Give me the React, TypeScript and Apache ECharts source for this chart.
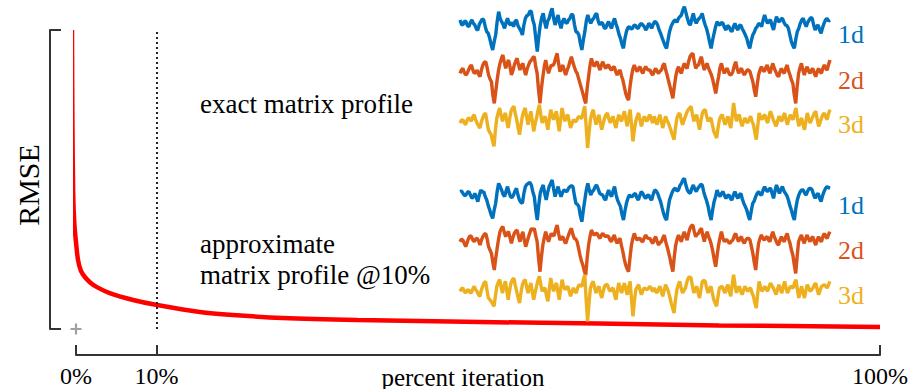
import React, { useEffect, useRef } from "react";
import * as echarts from "echarts";

// ---- RMSE curve (percent iteration vs RMSE, arbitrary units 0-100) ----
const rmseX = [-0.5, -0.45, -0.35, -0.2, 0, 0.25, 0.6, 1.1, 1.8, 2.6, 4.2, 7.1, 10.1, 15.4, 19.5, 25.7, 35, 46.5, 65, 80, 100];
const rmseY = [100, 70, 45, 35, 29, 23.1, 19.5, 17.4, 15.5, 14, 12, 9.7, 8, 5.7, 4.7, 3.7, 3.0, 2.5, 1.8, 1.2, 0.7];
const xTicks = [0, 10, 100];
const markerPct = 10;

// ---- exact matrix profile sparklines ----
const blueTop = [
  15, 2, 0, 12, 10, -2, -5, 8, 15, 5, 0, -12, -15, 2, 10, 18, 15, -5, -20, -25, -40, -60, -75, -50, -30, 10, 40, 20, 10, 2, -10, 8, 20, 5, 0, 8, -5, 10, 15, -2, -10, -18, -30, 0, 20, 28, 30, 42, 40, 15, 0, -40, -80, -35, 0, 22, 35, 8, -10, 12, 20, 38, 50, 20, 0, 18, 30, 5, -10, 10, 20, 8, 5, 15, 20, 32, 30, 2, -20, -22, -30, -55, -75, -45, -20, 12, 30, 15, 5, 15, 20, 30, 35, 12, 0, 8, 5, -8, -10, 2, 10, -2, -10, 8, 20, 3, -10, -28, -40, -58, -70, -40, -20, -8, -5, -12, -10, -2, 0, -8, -10, 0, 5,
  0, -5, -15, -8, 5, 0, -10, 2, 10, 8, 0, -15, -25, -38, -50, -62, -70, -45, -20, -5, 5, 12, 15, 8, 20, 25, 30, 45, 55, 38, 20, 5, 0, 18, 35, 15, 5, 15, 20, 25, 35, 15, 0, -12, -30, -52, -70, -45, -25, -5, 10, 2, 0, 8, 5, -8, -15, -2, -5, -15, -20, -5, 5, -8, -15, -2, 0, -12, -20, -30, -40, -58, -70, -48, -30, -22, -10, -5, 5, 2, -5, 15, 30, 15, 5, 12, 15, -2, -15, 8, 25, 12, 10, 18, 20, 8, 0, -2, -10, -30, -50, -62, -70, -42, -20, -10, 5, 15, 20, 5, -5, 8, 15, 22, 20, 0, -15, -5, 0, -15, -25, -8, 5, 15, 20, 12, 15,
];
const orangeTop = [
  -5, 5, 10, -2, -10, -5, 5, 15, 20, 5, -5, -2, 5, -8, -15, 5, 20, 28, 30, 12, -10, -22, -30, -70, -95, -60, -25, 5, 25, 40, 50, 28, 10, 25, 35, 15, -10, 2, 20, 32, 40, 20, 5, 18, 25, 5, -10, 8, 20, 30, 35, 42, 45, 15, -5, -55, -95, -50, -15, 15, 35, 12, -5, 10, 20, 18, 25, 42, 55, 25, 0, 12, 20, 2, -10, 5, 15, 32, 45, 28, 15, 2, -5, -20, -35, -50, -65, -82, -95, -50, -15, 18, 40, 25, 15, 25, 30, 15, 5, 20, 30, 18, 10, 18, 20, 10, 5, 12, 15, 0, -10, 0, 5, -12, -25, -45, -65, -78, -85, -45, -15, 8, 20, 8, 0, 10, 15, 2, -5, 8, 15, 8, 5,
  5, -5, -10, 2, 10, 0, -5, 2, 5, 18, 25, 5, -10, -28, -45, -62, -80, -45, -15, 5, 15, 2, -5, 12, 25, 15, 10, 30, 45, 52, 55, 30, 10, 18, 20, 35, 45, 22, 5, 18, 25, 10, 0, -10, -25, -45, -65, -38, -15, 12, 25, 8, -5, 5, 10, -2, -10, -8, 0, 18, 30, 10, -5, 5, 10, -2, -10, -2, 5, 5, 0, -15, -30, -55, -75, -40, -10, 5, 15, 5, 0, 12, 20, 5, -5, 12, 25, 10, 0, -10, -15, 0, 10, 0, -5, 10, 20, 2, -10, -25, -35, -70, -95, -45, -5, 12, 25, 5, -10, 5, 15, 2, -5, 5, 10, -5, -15, 0, 10, 0, -5, 10, 20, 10, 5, 22, 35,
];
const yellowTop = [
  0, 8, 10, 0, -5, 8, 15, 12, 5, 18, 25, 10, 0, -8, -15, 2, 15, 25, 30, 5, -20, -28, -35, -55, -70, -20, 15, 32, 45, 22, 5, 20, 30, 5, -15, 12, 35, 45, 50, 28, 10, -15, -35, -5, 20, 35, 45, 18, -5, 18, 35, 5, -25, -2, 15, 38, 55, 25, 0, 12, 20, 0, -20, 12, 40, 22, 10, 25, 35, 2, -25, 12, 45, 22, 5, 18, 25, 5, -15, -2, 10, 5, 5, 15, 20, 15, 15, 35, 50, -10, -75, -30, 10, 28, 40, 15, -5, 12, 25, 0, -20, -2, 15, 25, 30, 12, 0, 12, 20, 0, -15, 8, 25, 12, 5, 22, 35, 10, -10, 18, 40, -5, -55, -20, 5, 20, 30, 8, -10, 8, 20, 10, 5, 18, 25, 10, 0,
  20, 5, -5, 12, 25, 5, -15, 2, 20, 8, 0, -12, -25, -38, -50, -15, 15, 25, 30, 10, -5, 8, 20, 32, 40, 45, 50, 25, 5, 18, 25, 0, -20, 8, 30, 38, 40, 20, 5, 12, 15, -5, -25, -35, -45, -15, 10, 20, 25, 8, -5, 10, 20, 0, -15, 20, 60, 30, 5, 18, 25, 5, -10, 5, 15, 5, 0, 12, 20, 5, -5, -28, -50, -10, 30, 18, 10, 20, 25, 10, 0, 20, 35, 22, 10, 0, -10, 5, 20, 12, 5, 20, 30, 10, -5, 12, 25, 15, 10, 30, 45, 15, -10, 5, 15, -5, -20, 5, 30, 12, 0, 10, 20, 30, 35, 10, -10, 2, 15, 25, 30, 18, 10, 28, 40,
];

// ---- approximate matrix profile @10% sparklines ----
const blueBot = [
  10, 12, 5, -2, 0, 8, 10, 0, -10, -5, 5, -8, -20, 0, 15, 8, 10, -5, -15, -32, -45, -60, -70, -45, -25, 10, 35, 25, 15, 2, -5, 12, 25, 8, -5, -8, 0, 12, 20, 0, -15, -22, -25, 5, 25, 32, 35, 38, 30, 10, -5, -45, -75, -30, 5, 20, 30, 5, -15, 8, 25, 35, 45, 18, -5, 12, 25, 8, -5, 8, 15, 12, 10, 20, 25, 28, 25, -2, -25, -28, -35, -62, -80, -45, -15, 15, 35, 15, 0, 10, 15, 25, 30, 18, 5, 2, 0, -10, -15, 2, 15, 2, -5, 12, 25, 2, -15, -25, -35, -58, -75, -48, -25, -10, 0, -5, -5, 2, 5, -8, -15, -2, 10,
  5, -5, -10, -2, 0, -10, -15, 2, 15, 12, 5, -8, -20, -38, -55, -68, -75, -42, -15, -2, 10, 18, 20, 12, 15, 28, 35, 45, 50, 30, 15, 8, 5, 20, 30, 18, 10, 20, 25, 32, 30, 10, -5, -18, -35, -58, -75, -45, -20, -5, 15, 2, -5, 5, 10, -2, -10, -2, 0, -10, -15, 0, 10, -2, -10, 0, 5, -12, -25, -35, -45, -62, -75, -48, -25, -18, -5, 5, 10, 2, 0, 15, 25, 15, 10, 18, 20, 5, -10, 12, 30, 15, 5, 18, 25, 12, 5, -2, -15, -32, -45, -62, -75, -40, -15, 0, 10, 15, 15, 5, 0, 12, 20, 20, 15, 0, -10, 0, 5, -10, -20, -2, 10, 20, 25, 22, 20,
];
const orangeBot = [
  0, 8, 5, -5, -15, -2, 10, 18, 15, 5, 0, 8, 10, 2, -10, 5, 15, 22, 25, 8, -15, -25, -35, -62, -85, -50, -20, 8, 30, 40, 45, 28, 15, 25, 30, 12, -5, 12, 25, 32, 35, 15, 0, 18, 30, 5, -15, 0, 15, 28, 40, 35, 40, 18, 0, -50, -90, -45, -10, 12, 30, 12, 0, 15, 25, 18, 20, 38, 50, 25, 5, 12, 15, 2, -5, 8, 20, 32, 40, 22, 10, 8, 0, -20, -40, -58, -70, -88, -100, -50, -10, 15, 35, 25, 20, 25, 25, 15, 10, 20, 25, 18, 15, 18, 15, 5, 0, 12, 20, 5, -5, 5, 10, -12, -30, -52, -70, -82, -90, -48, -10, 10, 25, 12, 5, 10, 10, 2, 0, 12, 20, 12, 10,
  10, 0, -5, 8, 15, 0, -10, -2, 0, 12, 20, 0, -15, -32, -50, -72, -90, -45, -10, 8, 20, 8, 0, 18, 30, 15, 5, 25, 40, 48, 50, 30, 15, 22, 25, 35, 40, 18, 0, 18, 30, 15, 5, -10, -30, -55, -75, -40, -10, 12, 30, 12, 0, 5, 5, -2, -5, 2, 5, 18, 25, 10, 0, 10, 15, 2, -5, 5, 10, 10, 5, -15, -35, -62, -85, -40, -5, 10, 20, 10, 5, 12, 15, 5, 0, 18, 30, 15, 5, -5, -10, 5, 15, 5, 0, 15, 25, 8, -5, -25, -40, -70, -95, -45, 0, 12, 20, 5, -5, 10, 20, 8, 0, 10, 15, 0, -10, 5, 15, 5, 0, 15, 25, 15, 10, 22, 30,
];
const yellowBot = [
  5, 12, 15, 5, 0, 8, 10, 2, 0, 12, 20, 10, 5, -5, -10, 8, 20, 30, 35, 10, -15, -20, -25, -32, -40, -8, 20, 32, 40, 18, 0, 20, 35, 8, -20, 8, 30, 40, 45, 22, 5, -15, -30, 0, 25, 35, 40, 18, 0, 18, 30, 2, -20, 2, 20, 38, 50, 25, 5, 12, 15, -8, -25, 12, 45, 22, 5, 20, 30, 5, -20, 12, 40, 22, 10, 15, 20, 5, -10, 5, 15, 5, 0, 15, 25, 22, 20, 40, 55, -20, -85, -30, 15, 28, 35, 15, 0, 12, 20, 0, -15, 5, 20, 25, 25, 12, 5, 12, 15, -5, -20, 8, 30, 12, 0, 18, 30, 10, -5, 18, 35, -20, -70, -25, 10, 18, 25, 8, -5, 8, 15, 12, 10, 15, 20, 12, 5,
  15, 5, 0, 12, 20, 5, -10, 8, 25, 15, 5, -12, -30, -45, -60, -20, 10, 25, 35, 15, 0, 8, 15, 32, 45, 48, 45, 20, 0, 12, 20, 0, -15, 12, 35, 38, 35, 15, 0, 12, 20, 0, -20, -30, -40, -10, 15, 18, 20, 8, 0, 15, 25, 5, -10, 25, 55, 25, 0, 12, 20, 5, -5, 8, 20, 12, 5, 12, 15, 0, -10, -30, -45, -2, 35, 18, 5, 12, 20, 12, 5, 18, 30, 22, 15, 5, -5, 12, 25, 10, 0, 18, 35, 15, 0, 10, 20, 18, 15, 30, 40, 10, -15, 5, 20, 0, -15, 8, 25, 15, 5, 10, 15, 25, 30, 10, -5, 8, 20, 22, 25, 20, 15, 25, 35,
];

const dimLabels = ["1d", "2d", "3d"];
const FONT = "'Liberation Serif', 'Times New Roman', serif";
const COLORS = ["#0072BD", "#D95319", "#EDB120"];

export default function App() {
  const ref = useRef<HTMLDivElement>(null);

  useEffect(() => {
    if (!ref.current) return;
    const chart = echarts.init(ref.current, undefined, { renderer: "svg" });

    const sparkSets = [
      { data: blueTop, color: COLORS[0], base: 25 },
      { data: orangeTop, color: COLORS[1], base: 71.7 },
      { data: yellowTop, color: COLORS[2], base: 123 },
      { data: blueBot, color: COLORS[0], base: 195 },
      { data: orangeBot, color: COLORS[1], base: 241.7 },
      { data: yellowBot, color: COLORS[2], base: 293 },
    ];
    const labelY = [34, 80, 124, 205, 250, 295];

    const grids: any[] = [{ left: 76, right: 41, top: 30, bottom: 60 }];
    const xAxes: any[] = [
      {
        type: "value",
        gridIndex: 0,
        min: 0,
        max: 100,
        offset: 26,
        axisLine: { show: true, onZero: false, lineStyle: { color: "#333", width: 2 } },
        axisTick: { show: true, inside: true, length: 10, customValues: xTicks, lineStyle: { color: "#333", width: 2 } },
        axisLabel: {
          show: true,
          customValues: xTicks,
          formatter: (v: number) => v + "%",
          fontSize: 24,
          fontFamily: FONT,
          color: "#000",
          margin: 9,
        },
        splitLine: { show: false },
      },
    ];
    const yAxes: any[] = [
      {
        type: "value",
        gridIndex: 0,
        min: 0,
        max: 100,
        interval: 100,
        offset: 26,
        position: "left",
        axisLine: { show: true, onZero: false, lineStyle: { color: "#333", width: 2 } },
        axisTick: { show: true, inside: true, length: 11, lineStyle: { color: "#333", width: 2 } },
        axisLabel: { show: false },
        splitLine: { show: false },
      },
    ];
    const series: any[] = [
      {
        type: "line",
        xAxisIndex: 0,
        yAxisIndex: 0,
        data: rmseX.map((x, i) => [x, rmseY[i]]),
        smooth: 0.3,
        showSymbol: false,
        clip: false,
        lineStyle: { color: "#ff0000", width: 4.5 },
        z: 3,
        markLine: {
          silent: true,
          symbol: ["none", "none"],
          label: { show: false },
          lineStyle: { type: [2, 3], color: "#222", width: 2 },
          data: [{ xAxis: markerPct }],
        },
      },
      {
        type: "scatter",
        xAxisIndex: 0,
        yAxisIndex: 0,
        data: [[0, 0]],
        symbol: "path://M4,0H6V4H10V6H6V10H4V6H0V4H4Z",
        symbolSize: 11,
        clip: false,
        itemStyle: { color: "#8a8a8a" },
      },
    ];

    sparkSets.forEach((s, k) => {
      const gi = k + 1;
      grids.push({ left: 460, width: 370, top: s.base - 20, height: 55 });
      xAxes.push({ type: "value", gridIndex: gi, min: 0, max: s.data.length - 1, show: false });
      yAxes.push({ type: "value", gridIndex: gi, min: -105, max: 60, show: false });
      series.push({
        type: "line",
        xAxisIndex: gi,
        yAxisIndex: gi,
        data: s.data.map((v, i) => [i, v]),
        showSymbol: false,
        clip: false,
        lineStyle: { color: s.color, width: 3.4 },
      });
    });

    const txt = (text: string, x: number, y: number, size: number, color = "#000", align = "left", rotation = 0) => ({
      type: "text",
      x,
      y,
      rotation,
      style: {
        text,
        fontSize: size,
        fontFamily: FONT,
        fill: color,
        align,
        verticalAlign: "middle",
        textAlign: align,
        textVerticalAlign: "middle",
      },
    });

    const graphics: any[] = [
      txt("RMSE", 28, 185, 30, "#000", "center", Math.PI / 2),
      txt("percent iteration", 463, 377, 25, "#000", "center"),
      txt("exact matrix profile", 200, 104, 27),
      txt("approximate", 200, 244, 27),
      txt("matrix profile @10%", 200, 275, 27),
    ];
    labelY.forEach((y, k) => {
      graphics.push(txt(dimLabels[k % 3], 838, y, 26, COLORS[k % 3]));
    });

    chart.setOption({
      animation: false,
      backgroundColor: "#fff",
      grid: grids,
      xAxis: xAxes,
      yAxis: yAxes,
      series,
      graphic: graphics,
    });

    return () => chart.dispose();
  }, []);

  return <div ref={ref} style={{ position: "fixed", left: 0, top: 0, width: 921, height: 389 }} />;
}
